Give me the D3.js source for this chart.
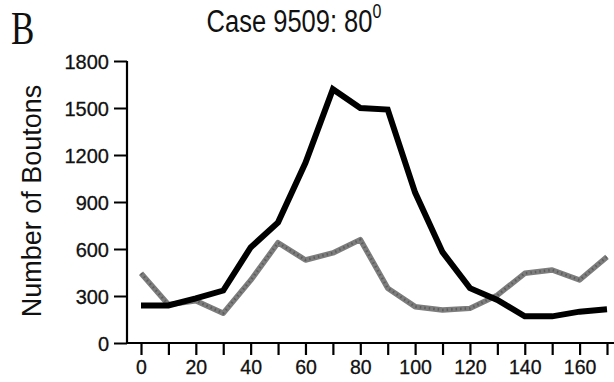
<!DOCTYPE html>
<html><head><meta charset="utf-8">
<script src="https://cdn.jsdelivr.net/npm/d3@7"></script>
<style>body{margin:0;background:#fff}svg{display:block}</style>
</head><body>
<svg id="c" width="614" height="382"></svg>
<script>
const angles = [0,10,20,30,40,50,60,70,80,90,100,110,120,130,140,150,160,170];
const blackSeries = [240,240,285,335,610,770,1150,1620,1500,1490,960,580,350,275,170,170,200,215];
const graySeries = [445,245,270,190,400,640,530,575,660,350,232,211,221,305,445,466,402,550];
const yTicks = [0,300,600,900,1200,1500,1800];
const xTickLabels = [0,20,40,60,80,100,120,140,160];
const xTickMarks = angles;

const svg = d3.select("#c");
const font = "'Liberation Sans', Arial, Helvetica, sans-serif";
const x = d3.scaleLinear().domain([0,170]).range([141,607]);
const y = d3.scaleLinear().domain([0,1800]).range([343,61]);
const axisX = 127;

// y axis
const yAxis = svg.append("g").attr("transform",`translate(${axisX},0)`)
  .call(d3.axisLeft(y).tickValues(yTicks).tickSize(13).tickPadding(5).tickFormat(d3.format("d")));
yAxis.select(".domain").attr("d",`M0,${y(1800)}V${y(0)}`).attr("stroke","#000").attr("stroke-width",2.2);
yAxis.selectAll(".tick line").attr("stroke","#000").attr("stroke-width",2);
yAxis.selectAll(".tick text").attr("font-family",font).attr("font-size",20).attr("fill","#111")
  .attr("stroke","#111").attr("stroke-width",0.3).attr("dy","0.36em");

// x axis
const xAxis = svg.append("g").attr("transform",`translate(0,${y(0)})`)
  .call(d3.axisBottom(x).tickValues(xTickMarks).tickSize(12).tickPadding(4)
    .tickFormat(d => xTickLabels.includes(d) ? d : ""));
xAxis.select(".domain").attr("d",`M${axisX},0H614`).attr("stroke","#000").attr("stroke-width",2.2);
xAxis.selectAll(".tick line").attr("stroke","#000").attr("stroke-width",2.2);
xAxis.selectAll(".tick text").attr("font-family",font).attr("font-size",19.5).attr("fill","#111")
  .attr("stroke","#111").attr("stroke-width",0.3).attr("dy","0.75em");

// lines
const line = d3.line().x((d,i)=>x(angles[i])).y(d=>y(d));
svg.append("path").datum(graySeries).attr("d",line).attr("fill","none")
  .attr("stroke","#7d7d7d").attr("stroke-width",5.5).attr("stroke-linejoin","round");
svg.append("path").datum(graySeries).attr("d",line).attr("fill","none")
  .attr("stroke","#444").attr("stroke-width",2.5).attr("stroke-dasharray","1.5,3").attr("opacity",0.55);
svg.append("path").datum(blackSeries).attr("d",line).attr("fill","none")
  .attr("stroke","#000").attr("stroke-width",6).attr("stroke-linejoin","miter");

// title
const t = svg.append("text").attr("transform","translate(294,32) scale(1,1.25)")
  .attr("text-anchor","middle").attr("font-family",font).attr("font-size",25.5).attr("fill","#111");
t.append("tspan").text("Case 9509: 80");
t.append("tspan").attr("font-size",16).attr("dy","-0.7em").text("0");

// panel letter
svg.append("text").attr("transform","translate(11,44) scale(1,1.3)")
  .attr("font-family","'Liberation Serif','Times New Roman',serif").attr("font-size",35).attr("fill","#111").text("B");

// y label
svg.append("text").attr("transform","translate(41,201) rotate(-90)")
  .attr("text-anchor","middle").attr("font-family",font).attr("font-size",27).attr("fill","#111")
  .text("Number of Boutons");
</script>
</body></html>
